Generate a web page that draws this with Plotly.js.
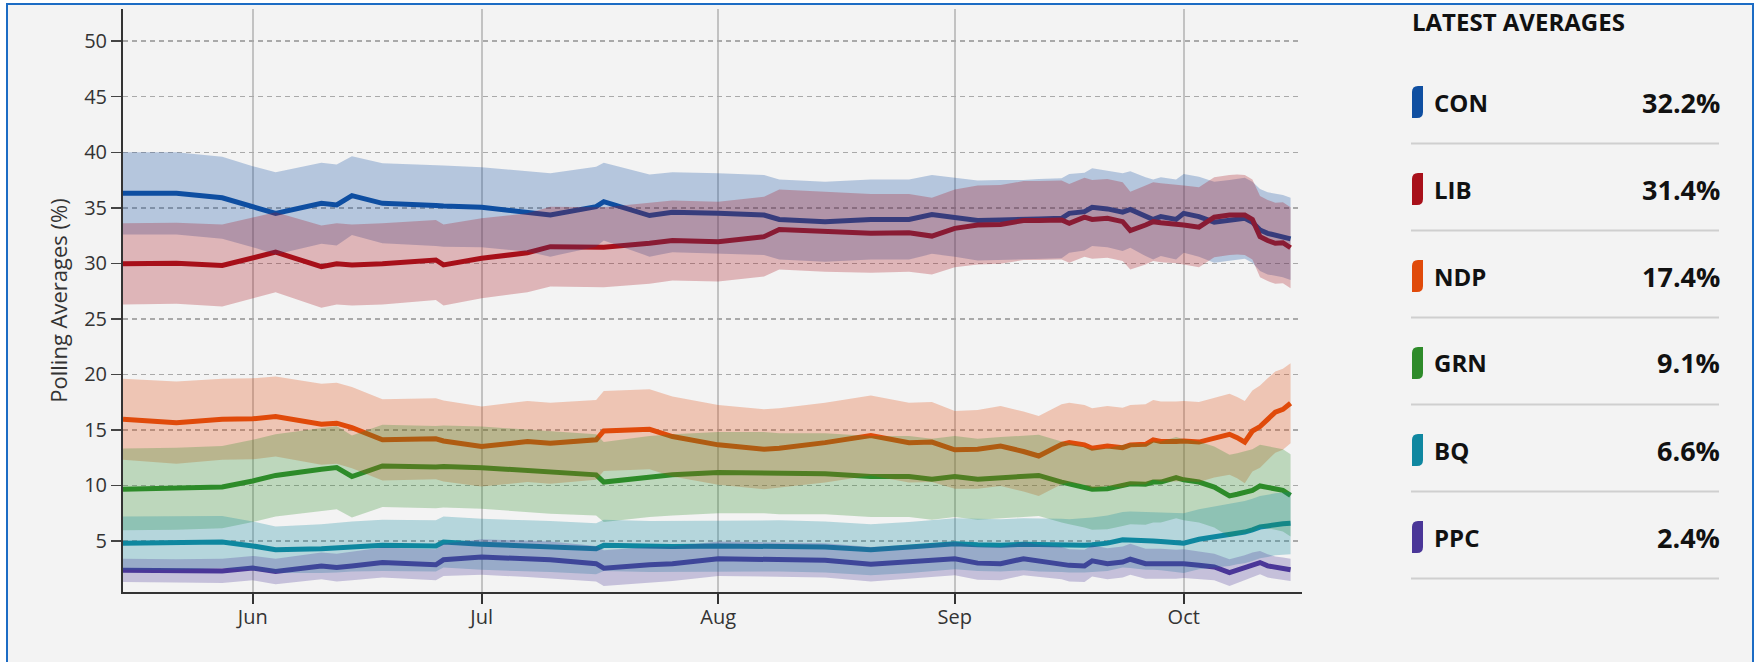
<!DOCTYPE html>
<html>
<head>
<meta charset="utf-8">
<script src="https://cdn.plot.ly/plotly-3.0.1.min.js"></script>
<style>
  html, body { margin:0; padding:0; background:#ffffff; overflow:hidden; }
  #frame { position:absolute; left:6px; top:3px; width:1744px; height:720px;
           border:2px solid #1c6cc4; border-bottom:none; background:#f3f3f3; }
  #chart { position:absolute; left:0; top:0; width:1759px; height:662px; }
</style>
</head>
<body>
<div id="frame"></div>
<div id="chart"></div>
<script>
// ---- data ----
const dates = ["2019-05-15","2019-05-22","2019-05-28","2019-06-01","2019-06-04","2019-06-10","2019-06-12","2019-06-14","2019-06-18","2019-06-25",
  "2019-06-26","2019-07-01","2019-07-07","2019-07-10","2019-07-16","2019-07-17","2019-07-23","2019-07-26","2019-08-01","2019-08-07",
  "2019-08-09","2019-08-15","2019-08-21","2019-08-26","2019-08-29","2019-09-01","2019-09-04","2019-09-07","2019-09-10","2019-09-12",
  "2019-09-15","2019-09-16","2019-09-18","2019-09-19","2019-09-21","2019-09-23","2019-09-24","2019-09-26","2019-09-27","2019-09-28",
  "2019-09-30","2019-10-01","2019-10-03","2019-10-05","2019-10-07","2019-10-08","2019-10-09","2019-10-10","2019-10-11","2019-10-12",
  "2019-10-13","2019-10-14","2019-10-15"];

const con = [36.3,36.3,35.9,35.1,34.5,35.4,35.25,36.1,35.4,35.2,35.15,35.05,34.65,34.35,35.1,35.55,34.3,34.6,34.5,34.35,
  33.95,33.75,33.95,33.95,34.4,34.15,33.85,33.9,33.9,34.0,34.05,34.5,34.65,35.05,34.9,34.6,34.85,34.2,33.95,34.2,
  33.95,34.5,34.2,33.7,33.85,33.95,34.05,33.7,33.0,32.7,32.55,32.45,32.2];
const lib = [29.95,30.0,29.8,30.5,31.0,29.7,29.95,29.85,29.95,30.3,29.85,30.45,30.95,31.5,31.45,31.45,31.8,32.05,31.95,32.4,
  33.05,32.85,32.7,32.75,32.45,33.15,33.45,33.5,33.85,33.85,33.9,33.6,34.15,33.95,34.05,33.75,32.95,33.45,33.75,33.65,
  33.55,33.45,33.25,34.15,34.35,34.4,34.35,33.95,32.4,32.05,31.8,31.85,31.4];
const ndp = [15.95,15.65,15.95,16.0,16.2,15.5,15.6,15.2,14.1,14.2,14.0,13.5,13.95,13.8,14.1,14.9,15.05,14.4,13.65,13.25,
  13.35,13.85,14.5,13.85,13.9,13.2,13.25,13.55,13.05,12.65,13.7,13.85,13.65,13.35,13.55,13.4,13.65,13.7,14.1,13.95,
  13.95,14.0,13.9,14.3,14.6,14.3,13.9,14.9,15.3,15.95,16.6,16.85,17.4];
const grn = [9.65,9.7,9.85,10.4,10.9,11.45,11.6,10.8,11.75,11.65,11.7,11.6,11.3,11.15,10.95,10.3,10.8,10.95,11.15,11.15,
  11.05,11.05,10.8,10.8,10.55,10.8,10.55,10.7,10.8,10.9,10.3,10.15,9.85,9.65,9.7,10.0,10.15,10.1,10.3,10.3,
  10.7,10.5,10.3,9.85,9.05,9.2,9.4,9.55,9.95,9.85,9.7,9.55,9.1];
const bq = [4.8,4.8,4.9,4.55,4.2,4.3,4.4,4.5,4.6,4.55,4.9,4.7,4.55,4.5,4.3,4.6,4.5,4.5,4.55,4.55,
  4.55,4.45,4.2,4.4,4.55,4.75,4.65,4.6,4.7,4.65,4.6,4.55,4.6,4.65,4.8,5.1,5.1,5.0,5.0,4.95,
  4.85,4.8,5.15,5.35,5.55,5.7,5.8,6.0,6.25,6.35,6.5,6.55,6.6];
const ppc = [2.35,2.3,2.3,2.55,2.25,2.75,2.6,2.75,3.05,2.85,3.3,3.55,3.4,3.3,2.95,2.55,2.85,2.95,3.4,3.35,
  3.3,3.25,2.9,3.1,3.25,3.4,3.0,2.95,3.4,3.2,3.0,2.8,2.75,3.2,2.95,3.1,3.35,2.95,2.95,2.95,
  2.9,2.95,2.8,2.65,2.15,2.35,2.6,2.85,3.05,2.75,2.6,2.5,2.4];

// half-widths of the shaded bands
const conMoe = [3.7,3.7,3.7,3.65,3.7,3.65,3.65,3.55,3.6,3.65,3.65,3.6,3.6,3.75,3.6,3.5,3.7,3.6,3.6,3.6,
  3.6,3.6,3.6,3.6,3.55,3.55,3.6,3.6,3.6,3.6,3.6,3.55,3.5,3.5,3.45,3.5,3.45,3.55,3.6,3.55,
  3.6,3.55,3.6,3.65,3.65,3.65,3.65,3.65,3.7,3.7,3.7,3.7,3.7];
const libMoe = [3.65,3.65,3.7,3.65,3.6,3.7,3.65,3.65,3.65,3.6,3.65,3.6,3.55,3.6,3.6,3.6,3.65,3.6,3.6,3.6,
  3.6,3.6,3.55,3.5,3.45,3.5,3.55,3.55,3.55,3.55,3.55,3.55,3.55,3.55,3.55,3.55,3.5,3.55,3.55,3.55,
  3.55,3.55,3.6,3.6,3.6,3.6,3.6,3.6,3.65,3.65,3.65,3.65,3.65];
const ndpMoe = [3.65,3.7,3.65,3.65,3.6,3.65,3.65,3.65,3.65,3.65,3.65,3.6,3.65,3.65,3.6,3.6,3.6,3.6,3.6,3.6,
  3.6,3.6,3.6,3.6,3.6,3.5,3.55,3.6,3.6,3.6,3.6,3.6,3.6,3.6,3.6,3.6,3.6,3.6,3.6,3.6,
  3.6,3.6,3.6,3.6,3.65,3.65,3.7,3.65,3.7,3.7,3.65,3.65,3.6];
const grnMoe = [3.68,3.7,3.7,3.7,3.7,3.75,3.75,3.7,3.7,3.7,3.7,3.7,3.7,3.7,3.65,3.6,3.65,3.65,3.65,3.65,
  3.65,3.65,3.65,3.65,3.65,3.65,3.65,3.65,3.65,3.65,3.65,3.65,3.65,3.65,3.65,3.65,3.65,3.65,3.65,3.65,
  3.65,3.65,3.65,3.65,3.7,3.7,3.7,3.7,3.7,3.7,3.7,3.7,3.7];
const bqMoe = [2.4,2.4,2.35,2.2,2.1,2.2,2.25,2.25,2.3,2.3,2.3,2.3,2.3,2.3,2.3,2.3,2.3,2.3,2.3,2.3,
  2.3,2.3,2.3,2.3,2.3,2.3,2.35,2.35,2.35,2.4,2.4,2.4,2.45,2.45,2.5,2.5,2.55,2.6,2.6,2.6,
  2.65,2.7,2.7,2.75,2.8,2.8,2.8,2.8,2.8,2.8,2.8,2.8,2.8];
const ppcMoe = [1.05,1.05,1.1,1.1,1.15,1.2,1.25,1.3,1.35,1.4,1.45,1.6,1.65,1.65,1.6,1.6,1.6,1.55,1.55,1.55,
  1.55,1.55,1.55,1.5,1.5,1.5,1.5,1.5,1.5,1.45,1.45,1.45,1.45,1.4,1.4,1.4,1.4,1.35,1.35,1.35,
  1.3,1.3,1.25,1.2,1.2,1.15,1.1,1.1,1.05,1.05,1.0,1.0,1.0];

const parties = ["CON","LIB","NDP","GRN","BQ","PPC"];
const latest = ["32.2%","31.4%","17.4%","9.1%","6.6%","2.4%"];
const yTicks = [5,10,15,20,25,30,35,40,45,50];
const panelTitle = "LATEST AVERAGES";
const yTitle = "Polling Averages (%)";

// ---- styling ----
const colors = ["#0f4fa1","#a8101a","#e04a0a","#2e8b2a","#0f87a0","#4a3698"];
const bandAlpha = 0.27;
const series = [con, lib, ndp, grn, bq, ppc];
const moes = [conMoe, libMoe, ndpMoe, grnMoe, bqMoe, ppcMoe];

function rgba(hex, a) {
  const n = parseInt(hex.slice(1), 16);
  return `rgba(${(n>>16)&255},${(n>>8)&255},${n&255},${a})`;
}

const traces = [];
// lines first
series.forEach((s, i) => {
  traces.push({
    type: "scatter", mode: "lines", x: dates, y: s,
    line: { color: colors[i], width: 5, shape: "linear" },
    hoverinfo: "skip", showlegend: false
  });
});
// bands drawn on top of the lines
series.forEach((s, i) => {
  const hi = s.map((v, k) => v + moes[i][k]);
  const lo = s.map((v, k) => v - moes[i][k]);
  traces.push({
    type: "scatter", mode: "lines",
    x: dates.concat(dates.slice().reverse()),
    y: hi.concat(lo.slice().reverse()),
    fill: "toself", fillcolor: rgba(colors[i], bandAlpha),
    line: { width: 0, color: "rgba(0,0,0,0)" },
    hoverinfo: "skip", showlegend: false
  });
});

// geometry of the plot area (pixels)
const W = 1759, H = 662;
const L = 123, R = 1302, T = 9, B = 592;
const px = x => (x - L) / (R - L);
const py = y => (B - y) / (B - T);

const font = "Open Sans, Noto Sans, sans-serif";
const annotations = [];
const shapes = [];

annotations.push({
  xref: "paper", yref: "paper", x: px(1410), y: py(21), xanchor: "left", yanchor: "middle",
  text: panelTitle, showarrow: false,
  font: { family: font, size: 24, color: "#111", weight: 700 }
});

const rowY = [102, 189, 276, 363, 450, 537];
parties.forEach((p, i) => {
  const yc = rowY[i];
  annotations.push({
    xref: "paper", yref: "paper", x: px(1432), y: py(yc), xanchor: "left", yanchor: "middle",
    text: p, showarrow: false, font: { family: font, size: 24, color: "#111", weight: 700 }
  });
  annotations.push({
    xref: "paper", yref: "paper", x: px(1722), y: py(yc), xanchor: "right", yanchor: "middle",
    text: latest[i], showarrow: false, font: { family: font, size: 27, color: "#111", weight: 700 }
  });
  shapes.push({
    type: "path", xref: "paper", yref: "paper",
    xsizemode: "pixel", ysizemode: "pixel", xanchor: px(1412), yanchor: py(yc),
    path: "M 0,-16 L 0,10 Q 0,16 6,16 L 11,16 L 11,-10 Q 11,-16 5,-16 Z",
    fillcolor: colors[i], line: { width: 0 }, layer: "above"
  });
  shapes.push({
    type: "line", xref: "paper", yref: "paper",
    x0: px(1411), x1: px(1719), y0: py(yc + 41.5), y1: py(yc + 41.5),
    line: { color: "#cfcfcf", width: 2 }, layer: "above"
  });
});

const layout = {
  width: W, height: H,
  margin: { l: L, r: W - R, t: T, b: H - B, pad: 0 },
  paper_bgcolor: "rgba(0,0,0,0)", plot_bgcolor: "rgba(0,0,0,0)",
  font: { family: font, size: 20, color: "#333" },
  showlegend: false,
  xaxis: {
    type: "date", range: ["2019-05-15", "2019-10-16 12:00"],
    tick0: "2019-05-01", dtick: "M1", tickformat: "%b",
    ticks: "outside", ticklen: 10, tickwidth: 2, tickcolor: "#333",
    ticklabelstandoff: -4,
    showgrid: true, gridcolor: "#c2c2c2", gridwidth: 2,
    showline: true, linecolor: "#333", linewidth: 2,
    zeroline: false, fixedrange: true,
    tickfont: { family: font, size: 20, color: "#333" }
  },
  yaxis: {
    range: [0.4, 52.9], tickmode: "array", tickvals: yTicks,
    ticks: "outside", ticklen: 10, tickwidth: 1.5, tickcolor: "#444",
    showgrid: true, gridcolor: "#a9a9a9", gridwidth: 1.5, griddash: "5px,4px",
    showline: true, linecolor: "#333", linewidth: 2,
    zeroline: false, fixedrange: true,
    tickfont: { family: font, size: 20, color: "#333" },
    title: { text: yTitle, font: { family: font, size: 22, color: "#333" }, standoff: 10 }
  },
  annotations: annotations,
  shapes: shapes
};

Plotly.newPlot("chart", traces, layout, { displayModeBar: false, staticPlot: true });
</script>
</body>
</html>
